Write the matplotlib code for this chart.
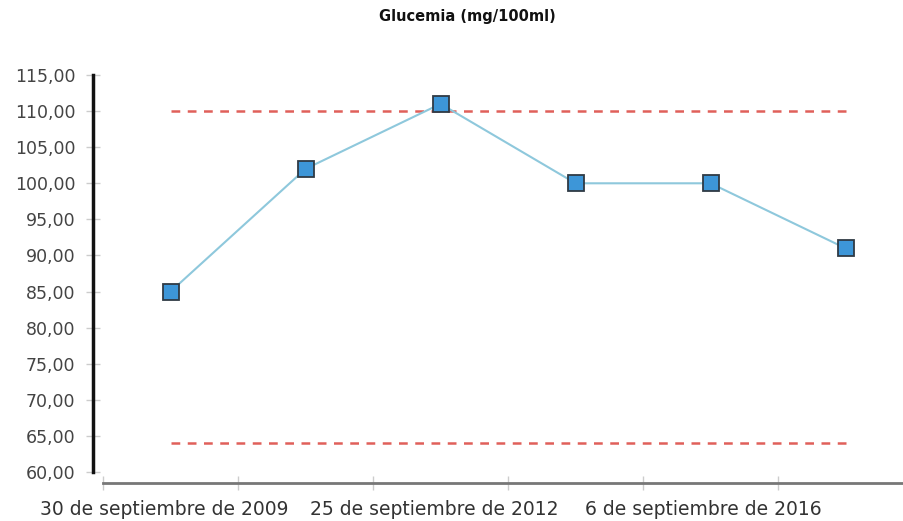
import matplotlib
matplotlib.use("Agg")
import matplotlib.pyplot as plt
from matplotlib.ticker import FixedLocator, FuncFormatter

# Datos
fechas = ["30 de septiembre de 2009", "", "25 de septiembre de 2012", "",
          "6 de septiembre de 2016", ""]
glucemia = [85, 102, 111, 100, 100, 91]
limite_sup = 110
limite_inf = 64
y_ticks = list(range(60, 120, 5))

fig = plt.figure(figsize=(9.04, 5.21), dpi=100)
ax = fig.add_axes([0.114, 0.094, 0.896, 0.762])

x = list(range(len(glucemia)))

# Reference lines across the data range
ax.plot([x[0], x[-1]], [limite_sup, limite_sup], color='#e0605a',
        linestyle=(0, (3.5, 3)), linewidth=1.8, zorder=2)
ax.plot([x[0], x[-1]], [limite_inf, limite_inf], color='#e0605a',
        linestyle=(0, (3.5, 3)), linewidth=1.8, zorder=2)

# Glucemia series
ax.plot(x, glucemia, color='#8ec8dc', linewidth=1.5, marker='s',
        markersize=11, markerfacecolor='#3d96d8', markeredgecolor='#2f3a44',
        markeredgewidth=1.3, zorder=3)

ax.set_xlim(-0.5, 5.5)
ax.set_ylim(60, 115)

# Spines
for s in ['top', 'right']:
    ax.spines[s].set_visible(False)
ax.spines['left'].set_position(('outward', 7))
ax.spines['left'].set_color('#111111')
ax.spines['left'].set_linewidth(2.5)
ax.spines['bottom'].set_position(('outward', 8))
ax.spines['bottom'].set_color('#777777')
ax.spines['bottom'].set_linewidth(2)

# Y ticks
ax.set_yticks(y_ticks)
ax.yaxis.set_major_formatter(FuncFormatter(lambda v, p: f"{v:.2f}".replace('.', ',')))
ax.tick_params(axis='y', direction='inout', length=10, width=1, color='#cccccc',
               labelsize=12.5, labelcolor='#444444', pad=8)

# X ticks: marks at category boundaries, labels centred under every other point
ax.xaxis.set_major_locator(FixedLocator([i - 0.5 for i in range(len(glucemia))]))
ax.xaxis.set_major_formatter(FuncFormatter(lambda v, p: ""))
ax.xaxis.set_minor_locator(FixedLocator([i - 0.05 for i in x]))
ax.set_xticklabels(fechas, minor=True)
ax.tick_params(axis='x', which='major', direction='inout', length=10, width=1,
               color='#cccccc')
ax.tick_params(axis='x', which='minor', length=0, labelsize=13.5,
               labelcolor='#333333', pad=12)

fig.text(0.517, 0.968, "Glucemia (mg/100ml)", ha='center', va='center',
         fontsize=10.5, fontweight='bold', color='#111111')

fig.savefig("out.png", dpi=100)
